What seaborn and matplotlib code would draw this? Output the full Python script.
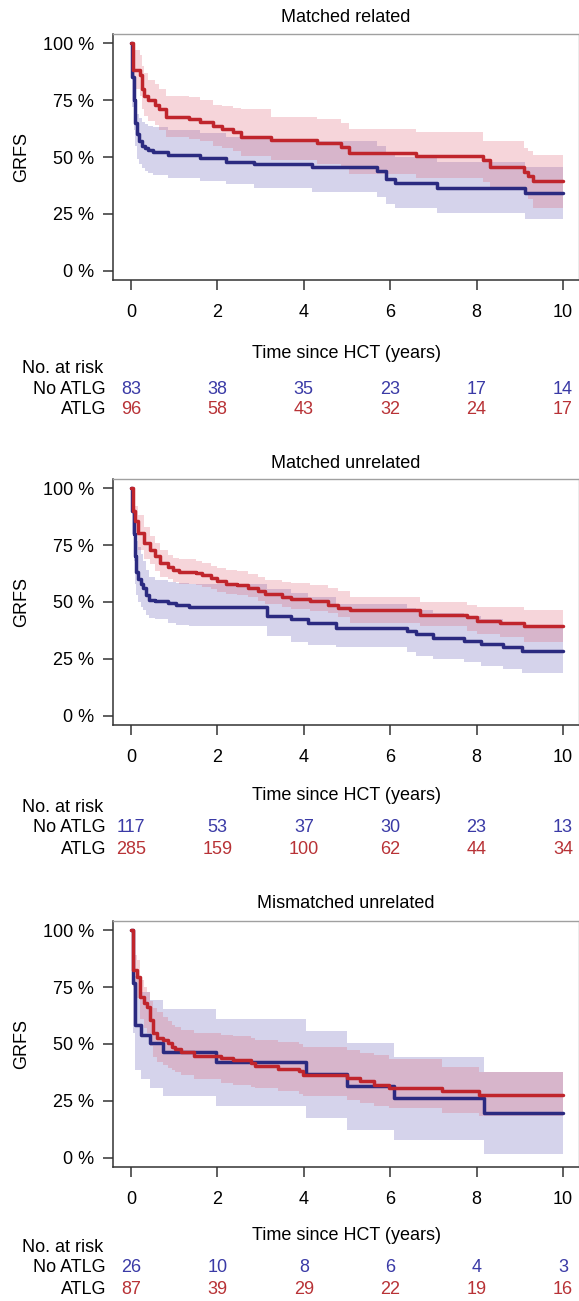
import numpy as np
import pandas as pd
import matplotlib
matplotlib.use("Agg")
import matplotlib.pyplot as plt
import matplotlib.transforms as mtransforms
import seaborn as sns

# ---- data (GRFS in %, time in years) ----
# Matched related
mr_t_no = [0, 0.03, 0.06, 0.1, 0.13, 0.18, 0.25, 0.32, 0.4, 0.5, 0.85, 1.6, 2.2, 2.85, 4.2, 5.7, 5.9, 6.1, 7.08, 9.13]
mr_s_no = [100, 85, 75, 65, 60, 57, 55, 54, 53, 52, 50.8, 49.5, 48, 47, 45.5, 43.7, 40.5, 38.6, 36.5, 34.3]
mr_hi_no = [100, 95, 88, 75, 69, 67, 65.5, 64.5, 63.5, 63, 62, 60.5, 59, 58, 57, 55, 52, 50, 48, 45.5]
mr_lo_no = [100, 72, 62, 55, 49, 47, 45, 44, 43, 42, 41, 39.5, 38, 36.5, 34.8, 32.5, 29.5, 27.5, 25.5, 23]

mr_t_atlg = [0, 0.05, 0.2, 0.25, 0.3, 0.4, 0.55, 0.65, 0.8, 1.35, 1.6, 1.9, 2.1, 2.35, 2.55, 3.25, 4.3, 4.85, 5.05, 6.6, 8.15, 8.3, 9.1, 9.2, 9.3]
mr_s_atlg = [100, 88, 86, 80, 77, 75, 73, 71, 67.5, 66.5, 65.5, 63.5, 62.5, 61, 59, 57.5, 56, 54.5, 51.7, 50.3, 48.5, 45.8, 43.5, 41.5, 39.3]
mr_hi_atlg = [100, 97, 95, 90, 87, 84, 82, 80, 77, 76.5, 75, 73, 72.5, 71.5, 71, 67.5, 66.5, 65, 62.5, 60.8, 57, 57, 54, 52.5, 51]
mr_lo_atlg = [100, 80, 77, 71, 68, 66, 64, 62, 59, 58, 57, 55, 54, 52.5, 50.5, 48.5, 47, 45.5, 42.5, 41, 39, 36.5, 33.5, 31.5, 27.5]

# Matched unrelated
mu_t_no = [0, 0.03, 0.06, 0.09, 0.12, 0.17, 0.22, 0.28, 0.35, 0.42, 0.55, 0.85, 1.05, 1.35, 3.15, 3.7, 4.1, 4.75, 6.4, 6.6, 7.0, 7.7, 8.1, 8.6, 9.05]
mu_s_no = [100, 90, 80, 70, 63, 60, 58, 56, 53, 51, 50.3, 49.5, 48.5, 47.6, 44, 42.4, 40.7, 38.6, 37.1, 35.8, 34, 32.8, 31.4, 30.1, 28.4]
mu_hi_no = [100, 98, 92, 85, 77, 74, 71, 68, 64, 61, 59.5, 59, 58.5, 58, 55.5, 54, 52, 49, 47.5, 46.5, 45, 44, 42.5, 41, 39.5]
mu_lo_no = [100, 80, 68, 58, 53, 50, 48, 46.5, 44.5, 43, 42.4, 41, 40, 39.3, 35, 32.3, 31, 30.1, 27.9, 26.2, 24.9, 23.6, 21.8, 20.5, 18.8]

mu_t_atlg = [0, 0.04, 0.09, 0.17, 0.3, 0.43, 0.55, 0.68, 0.85, 0.98, 1.1, 1.5, 1.65, 1.85, 2.0, 2.2, 2.45, 2.7, 2.95, 3.1, 3.5, 3.7, 4.15, 4.55, 4.78, 5.07, 6.69, 7.77, 8.0, 8.53, 9.1]
mu_s_atlg = [100, 90, 85.4, 80.3, 75.9, 73, 70, 67, 65.4, 64.2, 63.2, 62.6, 61.8, 60.6, 59.1, 58.1, 57.4, 56.2, 54.7, 53.3, 52.4, 51.2, 50.3, 48.9, 47.4, 46.3, 44.5, 43.2, 41.5, 40.6, 39.5]
mu_hi_atlg = [100, 96, 92, 88, 83, 79, 76, 73, 70.5, 69.5, 69, 68, 67, 66, 65, 64, 63.5, 62.5, 61, 59.8, 59, 58.5, 57.5, 56.3, 55, 52.4, 50.2, 48.9, 48, 47.6, 46.3]
mu_lo_atlg = [100, 84, 79, 73, 69, 66.5, 63.5, 61, 60, 59, 58, 57.5, 56.5, 55.5, 54.5, 53.5, 53, 52, 50.5, 49, 48, 47, 46, 45, 43.5, 41, 39.3, 37.1, 35.8, 34.5, 32.5]

# Mismatched unrelated
mm_t_no = [0, 0.04, 0.1, 0.24, 0.43, 0.73, 1.96, 4.04, 5.0, 6.08, 8.17]
mm_s_no = [100, 77, 58.4, 54, 50.4, 46.3, 41.9, 37, 31.4, 26.1, 19.7]
mm_hi_no = [100, 90, 80, 73, 69.3, 65.3, 60.9, 55.8, 50.4, 44.2, 37.5]
mm_lo_no = [100, 55, 38.7, 34.6, 30.7, 27, 22.6, 17.5, 12.4, 7.7, 1.9]

mm_t_atlg = [0, 0.04, 0.13, 0.21, 0.3, 0.38, 0.43, 0.51, 0.6, 0.73, 0.85, 0.94, 1.02, 1.15, 1.45, 2.09, 2.35, 2.77, 2.86, 3.41, 3.88, 3.98, 4.99, 5.29, 5.63, 5.97, 7.19, 8.06]
mm_s_atlg = [100, 82.5, 79.6, 70.8, 67.9, 66.4, 60.6, 54.7, 52.6, 51.8, 50.4, 48.9, 47.7, 46.3, 44.8, 43.8, 42.8, 41.6, 40.5, 39, 38, 36.5, 35, 33.6, 32.1, 30.7, 29.2, 27.6]
mm_hi_atlg = [100, 89, 87, 78, 75, 73, 69, 66, 64, 62, 60, 58.5, 57.5, 56.2, 54.7, 54, 53.3, 52.5, 51.8, 51, 50, 48.9, 47.4, 46.2, 45, 43.5, 40.1, 37.5]
mm_lo_atlg = [100, 75, 70, 61, 57, 55, 49, 44.5, 42.3, 41, 39.5, 38.5, 37.5, 36.5, 34.6, 32.8, 32, 31, 30.5, 29.2, 28, 27, 25.5, 24.1, 23, 21.9, 19.7, 18.5]

risk_times = [0, 2, 4, 6, 8, 10]
mr_risk_no = [83, 38, 35, 23, 17, 14]
mr_risk_atlg = [96, 58, 43, 32, 24, 17]
mu_risk_no = [117, 53, 37, 30, 23, 13]
mu_risk_atlg = [285, 159, 100, 62, 44, 34]
mm_risk_no = [26, 10, 8, 6, 4, 3]
mm_risk_atlg = [87, 39, 29, 22, 19, 16]

titles = ["Matched related", "Matched unrelated", "Mismatched unrelated"]
groups = ["No ATLG", "ATLG"]

panels = [
    (mr_t_no, mr_s_no, mr_lo_no, mr_hi_no, mr_t_atlg, mr_s_atlg, mr_lo_atlg, mr_hi_atlg, mr_risk_no, mr_risk_atlg),
    (mu_t_no, mu_s_no, mu_lo_no, mu_hi_no, mu_t_atlg, mu_s_atlg, mu_lo_atlg, mu_hi_atlg, mu_risk_no, mu_risk_atlg),
    (mm_t_no, mm_s_no, mm_lo_no, mm_hi_no, mm_t_atlg, mm_s_atlg, mm_lo_atlg, mm_hi_atlg, mm_risk_no, mm_risk_atlg),
]

line_cols = {"No ATLG": "#2B2A80", "ATLG": "#C0252C"}
band_cols = {"No ATLG": ("#5A50B0", 0.25), "ATLG": ("#E06070", 0.26)}
text_cols = {"No ATLG": "#3A3AA6", "ATLG": "#B83236"}

# layout in pixels (figure is 579 x 1301)
W, H = 579, 1301
ax_top = [34, 479, 921]
ax_h = 246
# y pixel of: title, time label, "No. at risk", row No ATLG, row ATLG
txt_y = [
    (17, 354, 368, 389, 410),
    (464, 796, 807, 827, 849),
    (904, 1236, 1247, 1268, 1289),
]
FS = 13

sns.set_style("white")
plt.rcParams["font.family"] = ["Liberation Sans", "DejaVu Sans"]
plt.rcParams["text.color"] = "black"
plt.rcParams["axes.labelcolor"] = "black"
plt.rcParams["xtick.labelcolor"] = "black"
plt.rcParams["ytick.labelcolor"] = "black"

fig = plt.figure(figsize=(W / 100, H / 100), dpi=100)


def fy(y):
    return 1 - y / H


def extend(t, *vals):
    # carry the last step out to 10 years
    return [list(t) + [10]] + [list(v) + [v[-1]] for v in vals]


for i, p in enumerate(panels):
    t0, s0, lo0, hi0, t1, s1, lo1, hi1, rno, ratlg = p
    ax = fig.add_axes([113 / W, 1 - (ax_top[i] + ax_h) / H, (579 - 113) / W, ax_h / H])

    rows = []
    for g, (t, s, lo, hi) in zip(groups, [(t0, s0, lo0, hi0), (t1, s1, lo1, hi1)]):
        te, se, loe, hie = extend(t, s, lo, hi)
        col, a = band_cols[g]
        ax.fill_between(te, loe, hie, step="post", color=col, alpha=a, lw=0)
        rows.append(pd.DataFrame({"time": te, "surv": se, "group": g}))
    df = pd.concat(rows, ignore_index=True)

    sns.lineplot(data=df, x="time", y="surv", hue="group", hue_order=groups,
                 palette=line_cols, drawstyle="steps-post", estimator=None,
                 lw=2.5, legend=False, ax=ax)

    ax.set_xlim(-0.417, 10.37)
    ax.set_ylim(-4, 104)
    ax.set_xticks(risk_times)
    ax.set_xticklabels([str(x) for x in risk_times])
    ax.set_yticks([0, 25, 50, 75, 100])
    ax.set_yticklabels(["0 %", "25 %", "50 %", "75 %", "100 %"])
    ax.set_xlabel("")
    ax.set_ylabel("GRFS", fontsize=FS, labelpad=9)
    ax.tick_params(axis="both", direction="out", length=7.5, width=1.1,
                   color="#333333", labelsize=FS, left=True, bottom=True)
    ax.tick_params(axis="y", pad=6)
    ax.tick_params(axis="x", pad=10)
    for side in ["top", "right"]:
        ax.spines[side].set_color("#a0a0a0")
        ax.spines[side].set_linewidth(1.0)
    for side in ["left", "bottom"]:
        ax.spines[side].set_color("#333333")
        ax.spines[side].set_linewidth(1.1)

    ty, tl, tn, r0, r1 = txt_y[i]
    fig.text(346 / W, fy(ty), titles[i], ha="center", va="center", fontsize=FS)
    fig.text(346 / W, fy(tl), "Time since HCT (years)", ha="center", va="center", fontsize=FS)
    fig.text(22 / W, fy(tn), "No. at risk", ha="left", va="center", fontsize=FS)
    fig.text(106 / W, fy(r0), "No ATLG", ha="right", va="center", fontsize=FS)
    fig.text(106 / W, fy(r1), "ATLG", ha="right", va="center", fontsize=FS)

    trans = mtransforms.blended_transform_factory(ax.transData, fig.transFigure)
    for x, n0, n1 in zip(risk_times, rno, ratlg):
        ax.text(x, fy(r0), str(n0), transform=trans, ha="center", va="center",
                fontsize=FS, color=text_cols["No ATLG"], clip_on=False)
        ax.text(x, fy(r1), str(n1), transform=trans, ha="center", va="center",
                fontsize=FS, color=text_cols["ATLG"], clip_on=False)

fig.savefig("out.png", dpi=100)
